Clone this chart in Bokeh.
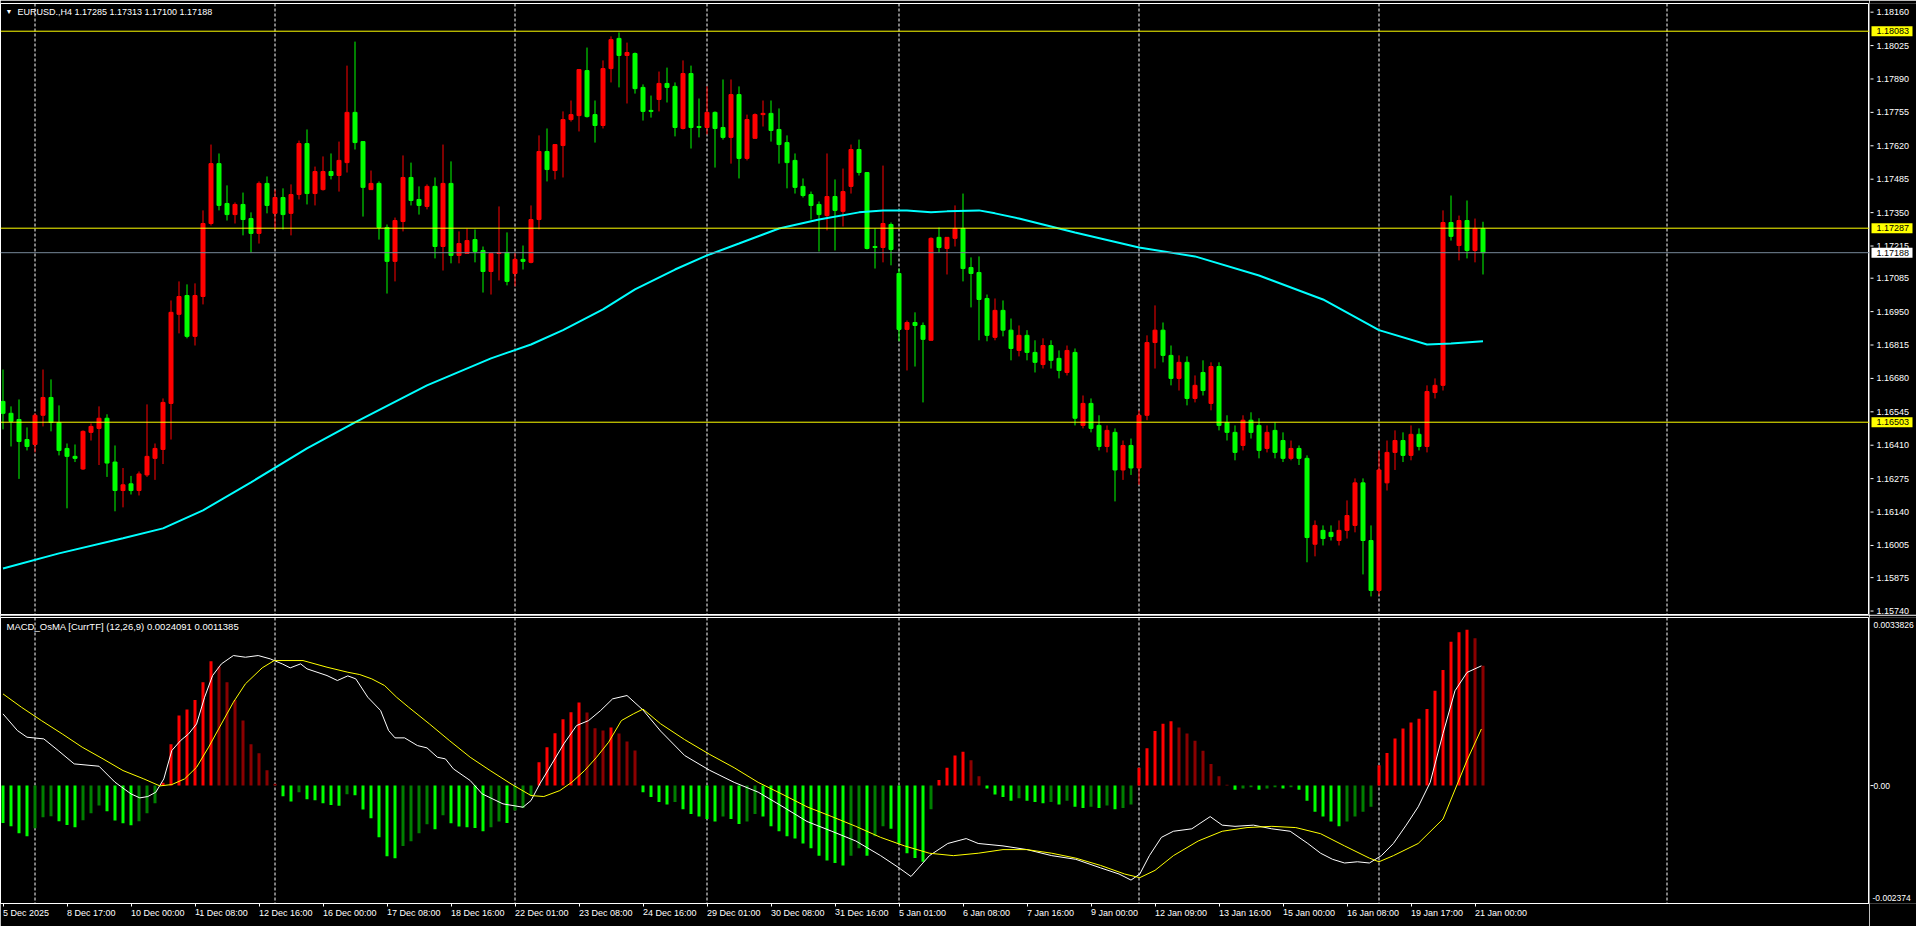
from bokeh.plotting import figure
from bokeh.layouts import column, row
from bokeh.models import Range1d, FixedTicker, Span, Label, ColumnDataSource
from bokeh.core.properties import value
from bokeh.embed import file_html
from bokeh.resources import INLINE

# ---------------- data (EURUSD., H4) ----------------
opens = [
1.16587, 1.16539, 1.16514, 1.16433, 1.16413, 1.16531, 1.16603, 1.16502, 1.16397, 1.16365,
1.16314, 1.16462, 1.16478, 1.16519, 1.16342, 1.16227, 1.16254, 1.16227, 1.16290, 1.16357,
1.16393, 1.16579, 1.16939, 1.17015, 1.16850, 1.17011, 1.17306, 1.17548, 1.17387, 1.17342,
1.17383, 1.17326, 1.17266, 1.17468, 1.17347, 1.17411, 1.17347, 1.17423, 1.17629, 1.17427,
1.17443, 1.17516, 1.17500, 1.17552, 1.17755, 1.17637, 1.17443, 1.17468, 1.17290, 1.17153,
1.17314, 1.17492, 1.17403, 1.17375, 1.17456, 1.17213, 1.17468, 1.17177, 1.17185, 1.17241,
1.17197, 1.17112, 1.17185, 1.17189, 1.17104, 1.17161, 1.17149, 1.17322, 1.17597, 1.17520,
1.17621, 1.17726, 1.17742, 1.17924, 1.17746, 1.17702, 1.17932, 1.18054, 1.17985, 1.17993,
1.17856, 1.17763, 1.17807, 1.17872, 1.17860, 1.17690, 1.17912, 1.17698, 1.17694, 1.17755,
1.17694, 1.17654, 1.17827, 1.17569, 1.17650, 1.17746, 1.17751, 1.17686, 1.17633, 1.17561,
1.17456, 1.17423, 1.17383, 1.17338, 1.17415, 1.17355, 1.17456, 1.17605, 1.17512, 1.17213,
1.17209, 1.17302, 1.17104, 1.16878, 1.16906, 1.16894, 1.16834, 1.17250, 1.17205, 1.17246,
1.17286, 1.17128, 1.17108, 1.17003, 1.16846, 1.16955, 1.16875, 1.16793, 1.16854, 1.16785,
1.16736, 1.16813, 1.16761, 1.16704, 1.16785, 1.16490, 1.16579, 1.16490, 1.16405, 1.16462,
1.16310, 1.16409, 1.16318, 1.16531, 1.16825, 1.16875, 1.16773, 1.16680, 1.16745, 1.16599,
1.16704, 1.16579, 1.16728, 1.16502, 1.16462, 1.16409, 1.16511, 1.16490, 1.16397, 1.16470,
1.16429, 1.16357, 1.16397, 1.16357, 1.16010, 1.16066, 1.16058, 1.16025, 1.16066, 1.16086,
1.16258, 1.16025, 1.15823, 1.16258, 1.16381, 1.16429, 1.16369, 1.16454, 1.16405, 1.16623,
1.16652, 1.17310, 1.17217, 1.17318, 1.17197, 1.17285]
highs = [
1.16716, 1.16567, 1.16595, 1.16482, 1.16539, 1.16716, 1.16676, 1.16571, 1.16417, 1.16413,
1.16470, 1.16498, 1.16567, 1.16535, 1.16409, 1.16318, 1.16286, 1.16304, 1.16575, 1.16417,
1.16599, 1.16995, 1.17072, 1.17060, 1.17064, 1.17359, 1.17625, 1.17589, 1.17460, 1.17391,
1.17431, 1.17351, 1.17476, 1.17496, 1.17443, 1.17448, 1.17464, 1.17641, 1.17686, 1.17536,
1.17577, 1.17589, 1.17637, 1.17944, 1.18041, 1.17637, 1.17520, 1.17476, 1.17302, 1.17330,
1.17581, 1.17552, 1.17456, 1.17464, 1.17492, 1.17625, 1.17557, 1.17274, 1.17286, 1.17282,
1.17213, 1.17185, 1.17375, 1.17270, 1.17189, 1.17217, 1.17379, 1.17662, 1.17690, 1.17625,
1.17759, 1.17803, 1.17928, 1.18017, 1.17803, 1.17965, 1.18062, 1.18078, 1.18037, 1.17997,
1.17868, 1.17823, 1.17920, 1.17936, 1.17876, 1.17965, 1.17944, 1.17811, 1.17860, 1.17759,
1.17888, 1.17888, 1.17860, 1.17746, 1.17751, 1.17803, 1.17803, 1.17771, 1.17662, 1.17589,
1.17488, 1.17435, 1.17395, 1.17589, 1.17484, 1.17528, 1.17625, 1.17645, 1.17512, 1.17286,
1.17540, 1.17310, 1.17124, 1.16914, 1.16947, 1.16906, 1.17250, 1.17290, 1.17250, 1.17379,
1.17427, 1.17169, 1.17173, 1.17019, 1.17003, 1.16995, 1.16922, 1.16894, 1.16875, 1.16834,
1.16842, 1.16834, 1.16793, 1.16813, 1.16801, 1.16611, 1.16599, 1.16531, 1.16490, 1.16478,
1.16429, 1.16437, 1.16551, 1.16854, 1.16975, 1.16906, 1.16813, 1.16773, 1.16769, 1.16692,
1.16753, 1.16745, 1.16745, 1.16531, 1.16490, 1.16531, 1.16543, 1.16519, 1.16490, 1.16502,
1.16462, 1.16429, 1.16409, 1.16369, 1.16106, 1.16086, 1.16086, 1.16106, 1.16187, 1.16276,
1.16276, 1.16086, 1.16389, 1.16429, 1.16470, 1.16462, 1.16490, 1.16478, 1.16652, 1.16680,
1.17359, 1.17419, 1.17338, 1.17399, 1.17326, 1.17313]
lows = [
1.16474, 1.16405, 1.16274, 1.16389, 1.16381, 1.16486, 1.16466, 1.16369, 1.16155, 1.16342,
1.16310, 1.16429, 1.16330, 1.16282, 1.16143, 1.16159, 1.16211, 1.16207, 1.16282, 1.16270,
1.16334, 1.16433, 1.16862, 1.16842, 1.16813, 1.16979, 1.17298, 1.17359, 1.17318, 1.17306,
1.17258, 1.17189, 1.17225, 1.17347, 1.17282, 1.17282, 1.17258, 1.17403, 1.17383, 1.17379,
1.17439, 1.17484, 1.17435, 1.17512, 1.17605, 1.17334, 1.17443, 1.17241, 1.17023, 1.17072,
1.17274, 1.17379, 1.17342, 1.17363, 1.17165, 1.17116, 1.17145, 1.17145, 1.17185, 1.17149,
1.17027, 1.17019, 1.17076, 1.17056, 1.17052, 1.17120, 1.17145, 1.17282, 1.17476, 1.17484,
1.17492, 1.17718, 1.17678, 1.17734, 1.17633, 1.17690, 1.17876, 1.17856, 1.17791, 1.17831,
1.17722, 1.17734, 1.17759, 1.17795, 1.17658, 1.17686, 1.17609, 1.17654, 1.17666, 1.17532,
1.17645, 1.17548, 1.17488, 1.17561, 1.17650, 1.17698, 1.17637, 1.17548, 1.17448, 1.17427,
1.17411, 1.17322, 1.17193, 1.17278, 1.17197, 1.17294, 1.17427, 1.17500, 1.17201, 1.17124,
1.17149, 1.17137, 1.16830, 1.16712, 1.16728, 1.16583, 1.16834, 1.17189, 1.17100, 1.17213,
1.17072, 1.16967, 1.16834, 1.16830, 1.16834, 1.16850, 1.16753, 1.16769, 1.16753, 1.16704,
1.16720, 1.16720, 1.16680, 1.16692, 1.16490, 1.16478, 1.16462, 1.16389, 1.16381, 1.16183,
1.16270, 1.16290, 1.16250, 1.16511, 1.16720, 1.16745, 1.16652, 1.16631, 1.16571, 1.16583,
1.16611, 1.16551, 1.16470, 1.16429, 1.16349, 1.16389, 1.16437, 1.16357, 1.16381, 1.16357,
1.16342, 1.16349, 1.16330, 1.15937, 1.15961, 1.16005, 1.16025, 1.16005, 1.16033, 1.16058,
1.15888, 1.15799, 1.15803, 1.16227, 1.16310, 1.16342, 1.16349, 1.16389, 1.16381, 1.16599,
1.16631, 1.17237, 1.17157, 1.17165, 1.17149, 1.17100]
closes = [
1.16539, 1.16506, 1.16425, 1.16405, 1.16531, 1.16603, 1.16502, 1.16389, 1.16365, 1.16357,
1.16466, 1.16486, 1.16519, 1.16338, 1.16227, 1.16250, 1.16227, 1.16294, 1.16365, 1.16397,
1.16583, 1.16947, 1.17011, 1.16850, 1.17015, 1.17306, 1.17548, 1.17379, 1.17342, 1.17383,
1.17322, 1.17266, 1.17468, 1.17379, 1.17411, 1.17342, 1.17423, 1.17629, 1.17427, 1.17516,
1.17516, 1.17500, 1.17561, 1.17755, 1.17633, 1.17452, 1.17468, 1.17290, 1.17153, 1.17318,
1.17492, 1.17399, 1.17379, 1.17456, 1.17213, 1.17468, 1.17177, 1.17225, 1.17237, 1.17193,
1.17112, 1.17185, 1.17189, 1.17072, 1.17161, 1.17153, 1.17322, 1.17597, 1.17524, 1.17625,
1.17726, 1.17746, 1.17928, 1.17738, 1.17702, 1.17932, 1.18049, 1.17985, 1.17997, 1.17851,
1.17759, 1.17759, 1.17872, 1.17856, 1.17694, 1.17912, 1.17694, 1.17694, 1.17755, 1.17690,
1.17654, 1.17827, 1.17569, 1.17726, 1.17746, 1.17751, 1.17682, 1.17625, 1.17552, 1.17452,
1.17419, 1.17379, 1.17342, 1.17415, 1.17359, 1.17435, 1.17605, 1.17512, 1.17205, 1.17209,
1.17306, 1.17201, 1.16878, 1.16906, 1.16894, 1.16838, 1.17246, 1.17209, 1.17250, 1.17286,
1.17124, 1.17104, 1.16999, 1.16854, 1.16955, 1.16875, 1.16801, 1.16854, 1.16785, 1.16745,
1.16813, 1.16753, 1.16712, 1.16793, 1.16519, 1.16579, 1.16478, 1.16405, 1.16470, 1.16310,
1.16409, 1.16318, 1.16531, 1.16825, 1.16875, 1.16773, 1.16680, 1.16745, 1.16599, 1.16652,
1.16631, 1.16728, 1.16490, 1.16462, 1.16381, 1.16511, 1.16462, 1.16389, 1.16462, 1.16381,
1.16357, 1.16397, 1.16357, 1.16037, 1.16086, 1.16033, 1.16041, 1.16066, 1.16126, 1.16258,
1.16025, 1.15823, 1.16310, 1.16381, 1.16429, 1.16369, 1.16454, 1.16405, 1.16627, 1.16652,
1.17310, 1.17254, 1.17318, 1.17197, 1.17286, 1.17188]

# moving average (cyan), read at knots
ma_idx = [0, 7, 15, 20, 25, 31, 38, 44, 53, 61, 66, 70, 75, 79, 84, 88, 92, 97, 102, 107,
          110, 113, 116, 118, 122, 124, 127, 134, 142, 149, 157, 165, 172, 178, 181, 185]
ma_val = [1.15912, 1.15973, 1.16034, 1.16074, 1.16147, 1.16260, 1.16397, 1.16502, 1.16652,
          1.16761, 1.16817, 1.16875, 1.16959, 1.17040, 1.17120, 1.17177, 1.17225, 1.17286,
          1.17322, 1.17351, 1.17359, 1.17359, 1.17351, 1.17355, 1.17359, 1.17347, 1.17326,
          1.17270, 1.17209, 1.17173, 1.17096, 1.16999, 1.16875, 1.16817, 1.16821, 1.16830]

# MACD_OsMA histogram (one per bar)
osma = [
-0.000752, -0.000819, -0.000960, -0.001020, -0.000859, -0.000637, -0.000617, -0.000718, -0.000792, -0.000839,
-0.000698, -0.000557, -0.000403, -0.000517, -0.000705, -0.000758, -0.000798, -0.000718, -0.000557, -0.000356,
0.000054, 0.000832, 0.001409, 0.001530, 0.001724, 0.002080, 0.002503, 0.002395, 0.002080, 0.001724,
0.001308, 0.000832, 0.000651, 0.000309, 0.000034, -0.000215, -0.000322, -0.000134, -0.000275, -0.000295,
-0.000356, -0.000389, -0.000409, -0.000174, -0.000195, -0.000483, -0.000658, -0.001040, -0.001423, -0.001463,
-0.001215, -0.001121, -0.000960, -0.000778, -0.000879, -0.000597, -0.000758, -0.000825, -0.000839, -0.000852,
-0.000919, -0.000839, -0.000725, -0.000752, -0.000503, -0.000450, -0.000201, 0.000470, 0.000772, 0.001053,
0.001335, 0.001476, 0.001671, 0.001470, 0.001154, 0.001107, 0.001168, 0.001047, 0.000886, 0.000705,
-0.000133, -0.000231, -0.000330, -0.000379, -0.000330, -0.000477, -0.000575, -0.000625, -0.000674, -0.000723,
-0.000625, -0.000674, -0.000772, -0.000723, -0.000575, -0.000625, -0.000821, -0.000920, -0.001018, -0.001067,
-0.001166, -0.001264, -0.001411, -0.001510, -0.001559, -0.001608, -0.001411, -0.001264, -0.001411, -0.001018,
-0.000821, -0.000870, -0.001166, -0.001362, -0.001460, -0.001534, -0.000477, 0.000113, 0.000359, 0.000605,
0.000679, 0.000507, 0.000187, -0.000059, -0.000182, -0.000231, -0.000305, -0.000256, -0.000305, -0.000330,
-0.000354, -0.000330, -0.000379, -0.000305, -0.000428, -0.000452, -0.000428, -0.000452, -0.000403, -0.000477,
-0.000452, -0.000379, 0.000359, 0.000752, 0.001097, 0.001244, 0.001293, 0.001171, 0.001048, 0.000900,
0.000703, 0.000433, 0.000187, 0.000015, -0.000084, -0.000059, -0.000034, -0.000084, -0.000059, -0.000034,
-0.000059, -0.000034, -0.000084, -0.000305, -0.000526, -0.000625, -0.000723, -0.000821, -0.000723, -0.000625,
-0.000526, -0.000428, 0.000408, 0.000654, 0.000949, 0.001146, 0.001269, 0.001343, 0.001539, 0.001908,
0.002326, 0.002892, 0.003088, 0.003138, 0.002966, 0.0024091]

# MACD main line (white), read at knots
macd_idx = [0, 1.8, 3.0, 5.1, 6.9, 8.9, 12.0, 14.0, 16.0, 17.1, 18.1, 19.1, 20.1, 21.1, 22.2, 23.2,
            24.2, 25.2, 26.2, 27.3, 28.8, 30.3, 31.9, 33.4, 34.9, 35.9, 37.2, 38.0, 40.5, 41.8,
            43.1, 44.1, 45.6, 47.2, 48.2, 49.0, 50.2, 51.8, 53.0, 54.3, 55.3, 56.3, 58.4, 59.9,
            62.5, 65.0, 66.0, 67.1, 68.6, 70.1, 71.7, 73.2, 74.7, 76.2, 78.0, 80.0, 82.2, 85.2,
            88.3, 91.4, 94.4, 97.5, 100.5, 103.6, 106.6, 109.7, 112.0, 113.5, 115.8, 118.1,
            120.4, 121.9, 125.0, 128.0, 131.1, 134.1, 137.2, 139.5, 141.0, 142.1, 143.3, 144.8,
            146.3, 148.6, 150.9, 152.4, 154.0, 156.3, 158.6, 160.9, 163.1, 164.7, 166.2, 167.7,
            169.3, 170.8, 172.3, 173.8, 175.4, 176.9, 178.4, 180.0, 181.5, 183.0, 184.8]
macd_val = [0.001443, 0.001107, 0.000973, 0.000939, 0.000705, 0.000436, 0.000389, 0.000067,
            -0.000168, -0.000248, -0.000221, -0.000134, 0.000134, 0.000705, 0.000906, 0.001040,
            0.001241, 0.001778, 0.002214, 0.002449, 0.002617, 0.002583, 0.002617, 0.002550,
            0.002449, 0.002369, 0.002449, 0.002349, 0.002214, 0.002114, 0.002208, 0.002147,
            0.001778, 0.001510, 0.001107, 0.000960, 0.000960, 0.000805, 0.000758, 0.000570,
            0.000537, 0.000336, 0.000101, -0.000168, -0.000369, -0.000436, -0.000302, 0.000034,
            0.000436, 0.000839, 0.001208, 0.001308, 0.001510, 0.001745, 0.001812, 0.001520,
            0.001097, 0.000605, 0.000310, 0.000064, -0.000133, -0.000428, -0.000723, -0.000920,
            -0.001116, -0.001411, -0.001657, -0.001830, -0.001411, -0.001166, -0.001067, -0.001166,
            -0.001215, -0.001289, -0.001411, -0.001485, -0.001657, -0.001780, -0.001903, -0.001780,
            -0.001411, -0.001043, -0.000920, -0.000871, -0.000625, -0.000797, -0.000821, -0.000797,
            -0.000871, -0.000920, -0.001166, -0.001362, -0.001485, -0.001559, -0.001534, -0.001559,
            -0.001411, -0.001166, -0.000797, -0.000428, 0.000064, 0.001048, 0.001908, 0.002277,
            0.0024091]

# signal line (yellow), read at knots
sig_idx = [0, 2.3, 4.8, 7.4, 9.9, 12.5, 15.0, 17.6, 19.6, 21.1, 22.7, 24.2, 25.7, 27.3, 28.8,
           30.3, 32.4, 33.9, 37.5, 40.5, 43.1, 44.6, 46.1, 47.7, 49.2, 50.7, 53.3, 55.8, 58.4,
           60.9, 63.5, 66.0, 67.6, 69.6, 71.1, 72.7, 74.2, 75.7, 77.3, 78.8, 80.0, 82.2, 85.2,
           88.3, 91.4, 94.4, 97.5, 100.5, 103.6, 106.6, 109.7, 112.7, 115.8, 118.8, 121.9, 125.0,
           128.0, 131.1, 134.1, 137.2, 140.2, 142.1, 144.0, 146.3, 149.4, 152.4, 155.5, 158.6,
           161.6, 164.7, 167.7, 170.8, 172.0, 173.8, 176.9, 180.0, 183.0, 184.8]
sig_val = [0.001845, 0.001577, 0.001308, 0.001040, 0.000772, 0.000537, 0.000302, 0.000134,
           -0.000007, 0.000020, 0.000134, 0.000369, 0.000772, 0.001241, 0.001678, 0.002047,
           0.002369, 0.002516, 0.002516, 0.002382, 0.002281, 0.002234, 0.002147, 0.002013,
           0.001778, 0.001577, 0.001241, 0.000906, 0.000570, 0.000302, 0.000034, -0.000201,
           -0.000221, -0.000101, 0.000067, 0.000302, 0.000570, 0.000872, 0.001308, 0.001443,
           0.001539, 0.001244, 0.000925, 0.000630, 0.000359, 0.000064, -0.000182, -0.000428,
           -0.000625, -0.000821, -0.001043, -0.001215, -0.001362, -0.001411, -0.001362, -0.001289,
           -0.001289, -0.001362, -0.001461, -0.001608, -0.001780, -0.001854, -0.001707, -0.001411,
           -0.001116, -0.000920, -0.000846, -0.000821, -0.000846, -0.000969, -0.001215, -0.001461,
           -0.001534, -0.001411, -0.001166, -0.000674, 0.000507, 0.0011385]

price_ticks = [1.18160, 1.18025, 1.17890, 1.17755, 1.17620, 1.17485, 1.17350, 1.17215, 1.17085,
               1.16950, 1.16815, 1.16680, 1.16545, 1.16410, 1.16275, 1.16140, 1.16005, 1.15875, 1.15740]
level_lines = [1.18083, 1.17287, 1.16503]
bid_price = 1.17188
week_starts = [4, 34, 64, 88, 112, 142, 172, 208]
time_idx = [0, 8, 16, 24, 32, 40, 48, 56, 64, 72, 80, 88, 96, 104, 112, 120, 128, 136, 144, 152, 160, 168, 176, 184]
time_lbl = ["5 Dec 2025", "8 Dec 17:00", "10 Dec 00:00", "11 Dec 08:00", "12 Dec 16:00", "16 Dec 00:00",
            "17 Dec 08:00", "18 Dec 16:00", "22 Dec 01:00", "23 Dec 08:00", "24 Dec 16:00", "29 Dec 01:00",
            "30 Dec 08:00", "31 Dec 16:00", "5 Jan 01:00", "6 Jan 08:00", "7 Jan 16:00", "9 Jan 00:00",
            "12 Jan 09:00", "13 Jan 16:00", "15 Jan 00:00", "16 Jan 08:00", "19 Jan 17:00", "21 Jan 00:00"]
macd_max, macd_min = 0.0033826, -0.002374

# ---------------- layout constants ----------------
FONT = "Liberation Sans"
CHART_W = 1869          # chart frame width (px)
AXIS_W = 47             # price-scale column width (px)
PX = 8.0                # px per bar
X0 = -2.5 / PX
X1 = X0 + CHART_W / PX
P_HI, P_LO = 1.18195, 1.15726      # price at frame top (y=3) / bottom (y=614)
M_PER_PX = (macd_max - macd_min) / 286.0
BULL, BEAR = "#FF0000", "#00FF00"


def xr(page_x):
    return X0 + page_x / PX


def py(page_y):
    return P_HI - (page_y - 3) / 611.0 * (P_HI - P_LO)


def my(page_y):
    return macd_max - (page_y - 617) * M_PER_PX


def base(p):
    p.grid.visible = False
    p.background_fill_color = "black"
    p.border_fill_color = "black"


# ---------------- price panel ----------------
p1 = figure(width=CHART_W, height=615, x_range=Range1d(X0, X1), y_range=Range1d(P_LO, P_HI),
            output_backend="svg", toolbar_location=None, x_axis_location=None,
            y_axis_location=None, min_border_left=0, min_border_right=0,
            min_border_top=3, min_border_bottom=1)
base(p1)
p1.outline_line_color = "white"

for s in week_starts:
    p1.add_layout(Span(location=s, dimension="height", line_color="white",
                       line_dash="3 2", line_width=1, level="underlay"))

idx = list(range(len(opens)))
colors = [BULL if c > o else BEAR for o, c in zip(opens, closes)]
src = ColumnDataSource(dict(x=idx, h=highs, l=lows,
                            top=[max(o, c) for o, c in zip(opens, closes)],
                            bottom=[min(o, c) for o, c in zip(opens, closes)],
                            color=colors))
p1.segment(x0="x", y0="h", x1="x", y1="l", line_color="color", line_width=1, source=src)
p1.vbar(x="x", width=0.5, top="top", bottom="bottom", fill_color="color",
        line_color="color", line_width=1, source=src)
p1.line(ma_idx, ma_val, line_color="#00FFFF", line_width=2)

for lv in level_lines:
    p1.add_layout(Span(location=lv, dimension="width", line_color="#FFFF00", line_width=1))
p1.add_layout(Span(location=bid_price, dimension="width", line_color="#778899", line_width=1))

p1.add_layout(Label(x=xr(5), y=py(10.5), text="\u25BC", text_font=FONT, text_font_size="7px",
                    text_color="white", text_baseline="middle"))
header = "EURUSD.,H4  %.5f %.5f %.5f %.5f" % (opens[-1], highs[-1], lows[-1], closes[-1])
p1.add_layout(Label(x=xr(17), y=py(11), text=header, text_font=FONT, text_font_size="9px",
                    text_color="white", text_baseline="middle"))

# price scale column
a1 = figure(width=AXIS_W, height=615, x_range=Range1d(0, AXIS_W), y_range=p1.y_range,
            output_backend="svg", toolbar_location=None, x_axis_location=None,
            y_axis_location=None, min_border_left=0, min_border_right=0,
            min_border_top=3, min_border_bottom=1)
base(a1)
a1.outline_line_color = None
a1.segment(x0=[1] * len(price_ticks), y0=price_ticks, x1=[4] * len(price_ticks), y1=price_ticks,
           line_color="white", line_width=1)
a1.text(x=[7] * len(price_ticks), y=price_ticks, text=["%.5f" % t for t in price_ticks],
        text_font=value(FONT), text_font_size=value("9px"), text_color="white",
        text_baseline="middle", text_align="left")
a1.rect(x=[22.5] * len(level_lines), y=level_lines, width=41, height=10, height_units="screen",
        fill_color="#FFFF00", line_color=None)
a1.text(x=[7] * len(level_lines), y=level_lines, text=["%.5f" % v for v in level_lines],
        text_font=value(FONT), text_font_size=value("9px"), text_color="black",
        text_baseline="middle", text_align="left")
a1.rect(x=[22.5], y=[bid_price], width=41, height=10, height_units="screen",
        fill_color="white", line_color=None)
a1.text(x=[7], y=[bid_price], text=["%.5f" % bid_price], text_font=value(FONT),
        text_font_size=value("9px"), text_color="black", text_baseline="middle", text_align="left")

# ---------------- MACD panel ----------------
p2 = figure(width=CHART_W, height=311, x_range=p1.x_range, y_range=Range1d(macd_min, macd_max),
            output_backend="svg", toolbar_location=None, x_axis_location="below",
            y_axis_location=None, min_border_left=0, min_border_right=0,
            min_border_top=2, min_border_bottom=23)
base(p2)
p2.outline_line_color = "white"

for s in week_starts:
    p2.add_layout(Span(location=s, dimension="height", line_color="white",
                       line_dash="3 2", line_width=1, level="underlay"))

hcol = []
for k, v in enumerate(osma):
    prev = osma[k - 1] if k > 0 else v
    if v >= 0:
        hcol.append("#FF0000" if (v >= prev or k == 0) else "#8B0000")
    else:
        hcol.append("#00FF00" if (v <= prev or k == 0) else "#008000")
hsrc = ColumnDataSource(dict(x=idx, top=[max(v, 0) for v in osma],
                             bottom=[min(v, 0) for v in osma], color=hcol))
p2.vbar(x="x", width=0.375, top="top", bottom="bottom", fill_color="color",
        line_color=None, source=hsrc)
p2.line(macd_idx, macd_val, line_color="white", line_width=1)
p2.line(sig_idx, sig_val, line_color="#FFFF00", line_width=1)

mhead = "MACD_OsMA [CurrTF] (12,26,9) %.7f %.7f" % (osma[-1], sig_val[-1])
p2.add_layout(Label(x=xr(6), y=my(626), text=mhead, text_font=FONT, text_font_size="9.5px",
                    text_color="white", text_baseline="middle"))

axx = p2.xaxis[0]
axx.ticker = FixedTicker(ticks=time_idx)
axx.major_label_overrides = {i: t for i, t in zip(time_idx, time_lbl)}
axx.major_label_orientation = -0.0001   # left-aligned labels starting at each tick
axx.major_tick_out = 3
axx.major_tick_in = 0
axx.minor_tick_out = 0
axx.minor_tick_in = 0
axx.axis_line_color = "white"
axx.major_tick_line_color = "white"
axx.major_label_text_color = "white"
axx.major_label_text_font = FONT
axx.major_label_text_font_size = "9px"
axx.major_label_standoff = 6

# MACD scale column
a2 = figure(width=AXIS_W, height=311, x_range=Range1d(0, AXIS_W), y_range=p2.y_range,
            output_backend="svg", toolbar_location=None, x_axis_location=None,
            y_axis_location=None, min_border_left=0, min_border_right=0,
            min_border_top=2, min_border_bottom=23)
base(a2)
a2.outline_line_color = None
a2.segment(x0=[1], y0=[0], x1=[4], y1=[0], line_color="white", line_width=1)
a2.text(x=[4], y=[0], text=["0.00"], text_font=value(FONT), text_font_size=value("8.5px"),
        text_color="white", text_baseline="middle", text_align="left")
a2.text(x=[4], y=[my(624)], text=["%.7f" % macd_max], text_font=value(FONT),
        text_font_size=value("8.5px"), text_color="white", text_baseline="middle", text_align="left")
a2.text(x=[3], y=[my(897)], text=["%.6f" % macd_min], text_font=value(FONT),
        text_font_size=value("8.5px"), text_color="white", text_baseline="middle", text_align="left")

layout = column(row(p1, a1, spacing=0), row(p2, a2, spacing=0), spacing=0)
open("out.html", "w").write(file_html(layout, INLINE))
